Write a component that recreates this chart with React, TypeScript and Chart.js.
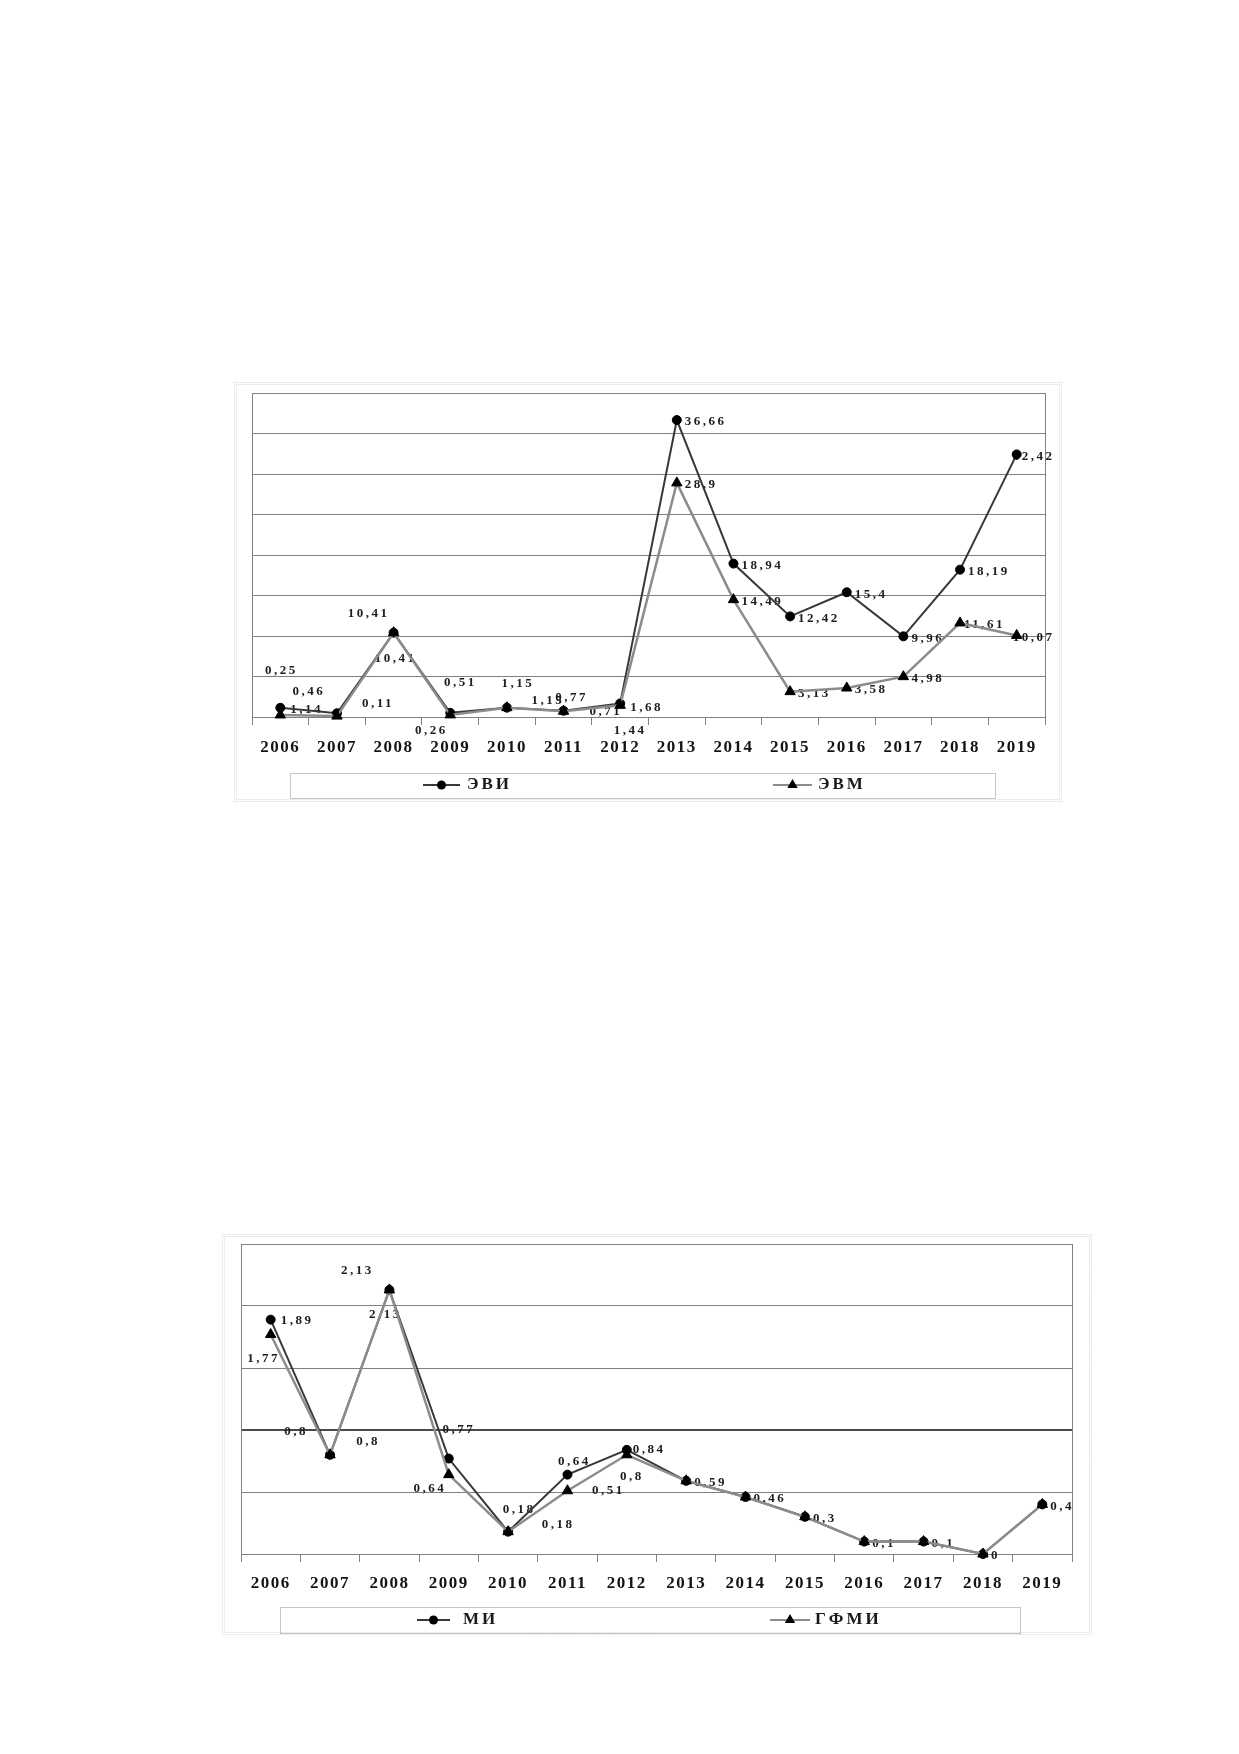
import React, { useEffect, useRef } from 'react';
import { Chart, registerables } from 'chart.js';

Chart.register(...registerables);

// ---------- data ----------
const years = ['2006', '2007', '2008', '2009', '2010', '2011', '2012', '2013', '2014', '2015', '2016', '2017', '2018', '2019'];

const eviLabel = 'ЭВИ';
const evmLabel = 'ЭВМ';
const eviValues = [1.14, 0.46, 10.41, 0.51, 1.15, 0.77, 1.68, 36.66, 18.94, 12.42, 15.4, 9.96, 18.19, 32.42];
const evmValues = [0.25, 0.11, 10.41, 0.26, 1.15, 0.71, 1.44, 28.9, 14.49, 3.13, 3.58, 4.98, 11.61, 10.07];

const miLabel = 'МИ';
const gfmiLabel = 'ГФМИ';
const miValues = [1.89, 0.8, 2.13, 0.77, 0.18, 0.64, 0.84, 0.59, 0.46, 0.3, 0.1, 0.1, 0, 0.4];
const gfmiValues = [1.77, 0.8, 2.13, 0.64, 0.18, 0.51, 0.8, 0.59, 0.46, 0.3, 0.1, 0.1, 0, 0.4];

const topAxis = { min: 0, max: 40, step: 5 };
const bottomAxis = { min: 0, max: 2.5, step: 0.5 };

// ---------- label placement (layout, relative to each point) ----------
type Place = { dx: number; dy: number; align?: CanvasTextAlign } | null;
const R: Place = { dx: 8, dy: 2, align: 'left' };
const RT: Place = { dx: -4, dy: 2, align: 'left' };

const eviPlaces: Place[] = [
  { dx: 10, dy: 2, align: 'left' }, { dx: -28, dy: -22 }, { dx: -25, dy: -19 }, { dx: 10, dy: -30 },
  { dx: 11, dy: -24 }, { dx: 8, dy: -13 }, { dx: 10, dy: 4, align: 'left' }, R, R, R, R, R, R, RT,
];
const evmPlaces: Place[] = [
  { dx: 1, dy: -44 }, { dx: 41, dy: -12 }, { dx: 2, dy: 26 }, { dx: -19, dy: 16 },
  { dx: 41, dy: -7 }, { dx: 26, dy: 0, align: 'left' }, { dx: 10, dy: 25 }, R, R, R, R, R, { dx: 4, dy: 2, align: 'left' }, RT,
];
const miPlaces: Place[] = [
  { dx: 10, dy: 1, align: 'left' }, { dx: -34, dy: -23 }, { dx: -32, dy: -19 }, { dx: 10, dy: -29 },
  { dx: 11, dy: -22 }, { dx: 7, dy: -13 }, { dx: 6, dy: 0, align: 'left' }, R, R, R, R, R, R, R,
];
const gfmiPlaces: Place[] = [
  { dx: -7, dy: 24 }, { dx: 38, dy: -13 }, { dx: -4, dy: 25 }, { dx: -19, dy: 14 },
  { dx: 50, dy: -7 }, { dx: 41, dy: 0 }, { dx: 5, dy: 22 }, null, null, null, null, null, null, null,
];

const SERIF = "'Liberation Serif', 'DejaVu Serif', serif";
const fmt = (v: number) => String(v).replace('.', ',');

type LegendSpec = {
  box: [number, number, number, number];
  cy: number;
  items: { ds: number; x1: number; x2: number; tx: number }[];
};

function drawMarker(ctx: CanvasRenderingContext2D, style: string, x: number, y: number, r: number) {
  ctx.beginPath();
  if (style === 'triangle') {
    let rad = 0;
    const t = (Math.PI * 2) / 3;
    ctx.moveTo(x + Math.sin(rad) * r, y - Math.cos(rad) * r);
    rad += t;
    ctx.lineTo(x + Math.sin(rad) * r, y - Math.cos(rad) * r);
    rad += t;
    ctx.lineTo(x + Math.sin(rad) * r, y - Math.cos(rad) * r);
    ctx.closePath();
  } else {
    ctx.arc(x, y, r, 0, Math.PI * 2);
  }
  ctx.fillStyle = '#000';
  ctx.fill();
}

function makePlugins(places: Place[][], legend: LegendSpec) {
  const spacing = {
    id: 'spacing',
    beforeDraw(chart: any) {
      chart.ctx.letterSpacing = '1.5px';
    },
    afterDraw(chart: any) {
      chart.ctx.letterSpacing = '0px';
    },
  };
  const frame = {
    id: 'frame',
    afterDraw(chart: any) {
      const ctx: CanvasRenderingContext2D = chart.ctx;
      const a = chart.chartArea;
      ctx.save();
      ctx.letterSpacing = '0px';
      // plot right edge
      ctx.strokeStyle = '#808080';
      ctx.lineWidth = 1;
      ctx.beginPath();
      ctx.moveTo(Math.round(a.right) + 0.5, a.top);
      ctx.lineTo(Math.round(a.right) + 0.5, a.bottom);
      ctx.stroke();
      // outer frame
      ctx.strokeStyle = '#d9d9d9';
      ctx.setLineDash([1, 1]);
      ctx.strokeRect(0.5, 0.5, chart.width - 1, chart.height - 1);
      ctx.strokeRect(2.5, 2.5, chart.width - 5, chart.height - 5);
      // legend box
      const [bx, by, bw, bh] = legend.box;
      ctx.strokeStyle = '#8a8a8a';
      ctx.strokeRect(bx + 0.5, by + 0.5, bw, bh);
      ctx.setLineDash([]);
      // legend items
      for (const it of legend.items) {
        const ds = chart.data.datasets[it.ds];
        ctx.strokeStyle = ds.borderColor;
        ctx.lineWidth = 2;
        ctx.beginPath();
        ctx.moveTo(it.x1, legend.cy);
        ctx.lineTo(it.x2, legend.cy);
        ctx.stroke();
        drawMarker(ctx, ds.pointStyle, (it.x1 + it.x2) / 2, legend.cy, ds.pointStyle === 'triangle' ? 6 : 4.5);
        ctx.fillStyle = '#1a1a1a';
        ctx.font = `bold 17px ${SERIF}`;
        ctx.letterSpacing = '3px';
        ctx.textAlign = 'left';
        ctx.textBaseline = 'middle';
        ctx.fillText(ds.label, it.tx, legend.cy);
      }
      ctx.restore();
    },
  };
  const labels = {
    id: 'valueLabels',
    beforeDatasetsDraw(chart: any) {
      const ctx: CanvasRenderingContext2D = chart.ctx;
      ctx.save();
      ctx.font = `bold 13px ${SERIF}`;
      ctx.letterSpacing = '2.5px';
      ctx.fillStyle = '#1c1c26';
      ctx.textBaseline = 'middle';
      chart.data.datasets.forEach((ds: any, i: number) => {
        const meta = chart.getDatasetMeta(i);
        meta.data.forEach((pt: any, j: number) => {
          const p = places[i][j];
          if (!p) return;
          ctx.textAlign = p.align || 'center';
          ctx.fillText(fmt(ds.data[j]), pt.x + p.dx, pt.y + p.dy);
        });
      });
      ctx.restore();
    },
  };
  return [spacing, frame, labels];
}

type ChartSpec = {
  left: number;
  top: number;
  w: number;
  h: number;
  padding: { left: number; top: number; right: number; bottom: number };
  xAxisH: number;
  tickPad: number;
  axis: { min: number; max: number; step: number };
  darkGrid?: number;
  series: { label: string; values: number[]; color: string; width: number; style: string; radius: number; order: number }[];
  places: Place[][];
  legend: LegendSpec;
};

function LineChart({ spec }: { spec: ChartSpec }) {
  const ref = useRef<HTMLCanvasElement>(null);
  useEffect(() => {
    const chart = new Chart(ref.current as HTMLCanvasElement, {
      type: 'line',
      data: {
        labels: years,
        datasets: spec.series.map((s) => ({
          label: s.label,
          data: s.values,
          borderColor: s.color,
          borderWidth: s.width,
          pointStyle: s.style as any,
          pointRadius: s.radius,
          pointBackgroundColor: '#000',
          pointBorderColor: '#000',
          pointBorderWidth: 1,
          tension: 0,
          order: s.order,
          clip: false as any,
        })),
      },
      options: {
        responsive: false,
        animation: false,
        devicePixelRatio: 1,
        layout: { padding: spec.padding },
        plugins: { legend: { display: false }, tooltip: { enabled: false } },
        scales: {
          x: {
            type: 'category',
            offset: true,
            grid: { offset: true, drawOnChartArea: false, drawTicks: true, tickLength: 8, color: '#808080' },
            border: { color: '#808080', width: 1 },
            ticks: {
              font: { family: SERIF, size: 17, weight: 'bold' },
              color: '#141414',
              padding: spec.tickPad,
              autoSkip: false,
              maxRotation: 0,
            },
            afterFit: (s: any) => {
              s.height = spec.xAxisH;
            },
          },
          y: {
            min: spec.axis.min,
            max: spec.axis.max,
            ticks: { stepSize: spec.axis.step, display: false },
            grid: {
              drawTicks: false,
              color: (c: any) => (spec.darkGrid !== undefined && c.tick && c.tick.value === spec.darkGrid ? '#4a4a4a' : '#808080'),
              lineWidth: (c: any) => (spec.darkGrid !== undefined && c.tick && c.tick.value === spec.darkGrid ? 2 : 1),
            },
            border: { color: '#808080', width: 1 },
            afterFit: (s: any) => {
              s.width = 0;
            },
          },
        },
      } as any,
      plugins: makePlugins(spec.places, spec.legend) as any,
    });
    return () => chart.destroy();
  }, [spec]);
  return (
    <canvas
      ref={ref}
      width={spec.w}
      height={spec.h}
      style={{ position: 'absolute', left: spec.left, top: spec.top, width: spec.w, height: spec.h }}
    />
  );
}

const topSpec: ChartSpec = {
  left: 226,
  top: 374,
  w: 828,
  h: 420,
  padding: { left: 18, top: 11, right: 17, bottom: 0 },
  xAxisH: 85,
  tickPad: 12,
  axis: topAxis,
  series: [
    { label: eviLabel, values: eviValues, color: '#383838', width: 2, style: 'circle', radius: 4.5, order: 1 },
    { label: evmLabel, values: evmValues, color: '#8c8c8c', width: 2.5, style: 'triangle', radius: 6, order: 0 },
  ],
  places: [eviPlaces, evmPlaces],
  legend: {
    box: [56, 391, 705, 25],
    cy: 403,
    items: [
      { ds: 0, x1: 189, x2: 226, tx: 233 },
      { ds: 1, x1: 539, x2: 578, tx: 584 },
    ],
  },
};

const bottomSpec: ChartSpec = {
  left: 214,
  top: 1226,
  w: 870,
  h: 401,
  padding: { left: 19, top: 10, right: 20, bottom: 0 },
  xAxisH: 81,
  tickPad: 11,
  axis: bottomAxis,
  darkGrid: 1,
  series: [
    { label: miLabel, values: miValues, color: '#383838', width: 2, style: 'circle', radius: 4.5, order: 1 },
    { label: gfmiLabel, values: gfmiValues, color: '#8c8c8c', width: 2.5, style: 'triangle', radius: 6, order: 0 },
  ],
  places: [miPlaces, gfmiPlaces],
  legend: {
    box: [58, 373, 740, 26],
    cy: 386,
    items: [
      { ds: 0, x1: 195, x2: 228, tx: 241 },
      { ds: 1, x1: 548, x2: 588, tx: 593 },
    ],
  },
};

export default function App() {
  return (
    <div style={{ position: 'relative', width: 1223, height: 1738 }}>
      <LineChart spec={topSpec} />
      <LineChart spec={bottomSpec} />
    </div>
  );
}
